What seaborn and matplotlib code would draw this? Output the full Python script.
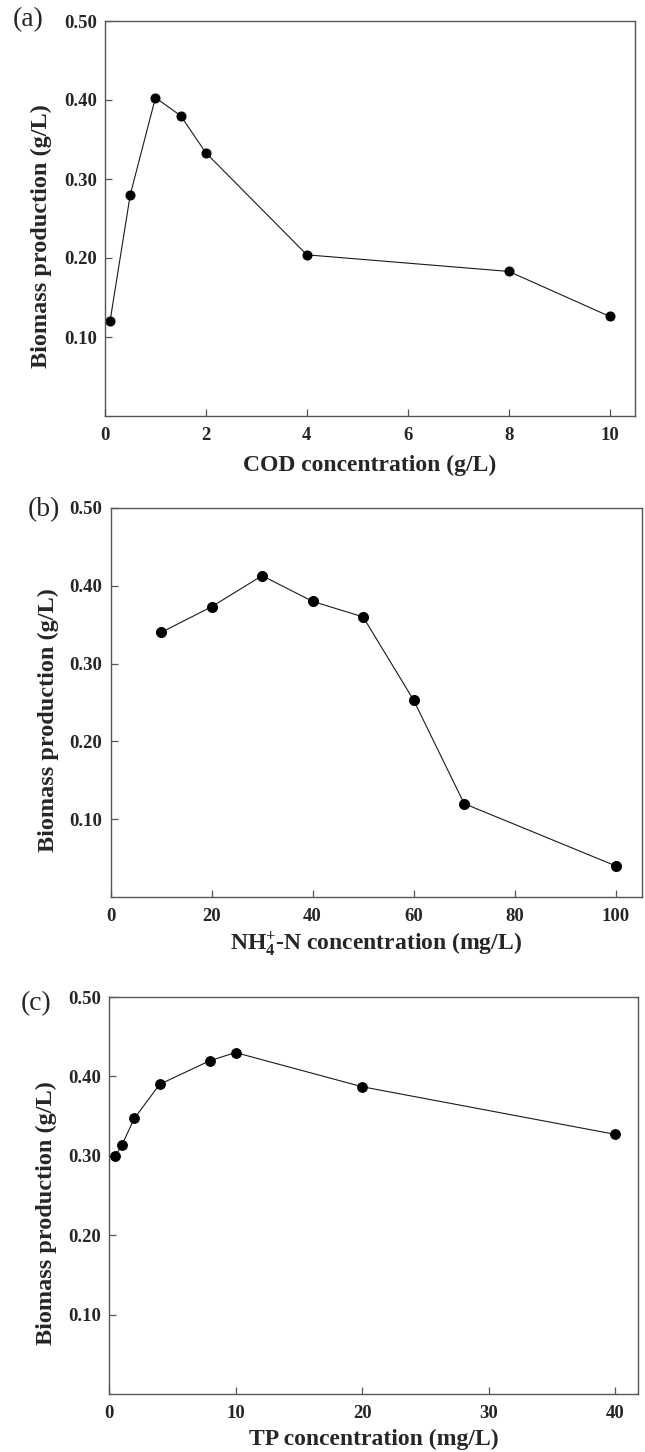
import matplotlib
matplotlib.use("Agg")
import matplotlib.pyplot as plt
import seaborn as sns
import numpy as np

# ---- data ----
cod_x = [0.1, 0.5, 1.0, 1.5, 2.0, 4.0, 8.0, 10.0]
cod_y = [0.120, 0.280, 0.403, 0.380, 0.333, 0.204, 0.183, 0.126]

nh4_x = [10, 20, 30, 40, 50, 60, 70, 100]
nh4_y = [0.340, 0.373, 0.413, 0.380, 0.360, 0.253, 0.120, 0.040]

tp_x = [0.5, 1, 2, 4, 8, 10, 20, 40]
tp_y = [0.300, 0.313, 0.347, 0.390, 0.420, 0.430, 0.387, 0.327]

y_ticks = [0.10, 0.20, 0.30, 0.40, 0.50]
cod_ticks = [0, 2, 4, 6, 8, 10]
nh4_ticks = [0, 20, 40, 60, 80, 100]
tp_ticks = [0, 10, 20, 30, 40]

panel_labels = ["(a)", "(b)", "(c)"]
x_labels = ["COD concentration (g/L)",
            r"NH$_{4}^{+}$-N concentration (mg/L)",
            "TP concentration (mg/L)"]
y_label = "Biomass production (g/L)"

# ---- style ----
sns.set_style("white")
plt.rcParams['font.family'] = ['Liberation Serif', 'DejaVu Serif']
plt.rcParams['mathtext.fontset'] = 'custom'
plt.rcParams['mathtext.rm'] = 'Liberation Serif:bold'
plt.rcParams['mathtext.it'] = 'Liberation Serif:bold'
plt.rcParams['mathtext.bf'] = 'Liberation Serif:bold'
plt.rcParams['mathtext.default'] = 'rm'

W, H = 645, 1452
fig = plt.figure(figsize=(W / 100, H / 100), dpi=100)

def px_axes(left, top, right, bottom):
    return fig.add_axes([left / W, 1 - bottom / H, (right - left) / W, (bottom - top) / H])

# axes boxes in pixels: left, top, right, bottom
boxes = [(105, 21, 635, 416), (110.5, 508, 642, 897), (109, 997, 638, 1394)]
xlims = [(0, 10.5), (0, 105.2), (0, 41.8)]
data = [(cod_x, cod_y, cod_ticks), (nh4_x, nh4_y, nh4_ticks), (tp_x, tp_y, tp_ticks)]
label_pos = [(13, 7), (28, 497), (21, 991)]
xlabel_y = [-0.098, -0.086, -0.087]
ylabel_x = [-0.100, -0.096, -0.099]
msizes = [6.5, 7.2, 7.0]

for i, (box, xl, (xs, ys, xt)) in enumerate(zip(boxes, xlims, data)):
    ax = px_axes(*box)
    sns.lineplot(x=xs, y=ys, ax=ax, color='#1a1a1a', linewidth=0.8,
                 marker='o', markersize=msizes[i], markerfacecolor='black',
                 markeredgecolor='black', estimator=None, sort=False)
    ax.set_xlim(*xl)
    ax.set_ylim(0, 0.5)
    ax.set_xticks(xt)
    ax.set_xticklabels([str(v) for v in xt])
    ax.set_yticks(y_ticks)
    ax.set_yticklabels([f"{v:.2f}" for v in y_ticks])
    for s in ax.spines.values():
        s.set_color('#555555')
        s.set_linewidth(1.0)
        s.set_visible(True)
    ax.tick_params(axis='both', which='major', direction='in', length=5,
                   width=0.9, color='#555555', labelsize=13.5,
                   bottom=True, left=True, top=False, right=False)
    ax.tick_params(axis='x', pad=8)
    ax.tick_params(axis='y', pad=6)
    for t in ax.get_xticklabels() + ax.get_yticklabels():
        t.set_fontweight('bold')
    ax.set_xlabel(x_labels[i], fontsize=17, fontweight='bold')
    ax.set_ylabel(y_label, fontsize=17.5, fontweight='bold')
    ax.xaxis.set_label_coords(0.5, xlabel_y[i])
    ax.yaxis.set_label_coords(ylabel_x[i], 0.455)
    fig.text(label_pos[i][0] / W, 1 - label_pos[i][1] / H, panel_labels[i],
             fontsize=20, ha='left', va='top')

fig.savefig("out.png", dpi=100)
